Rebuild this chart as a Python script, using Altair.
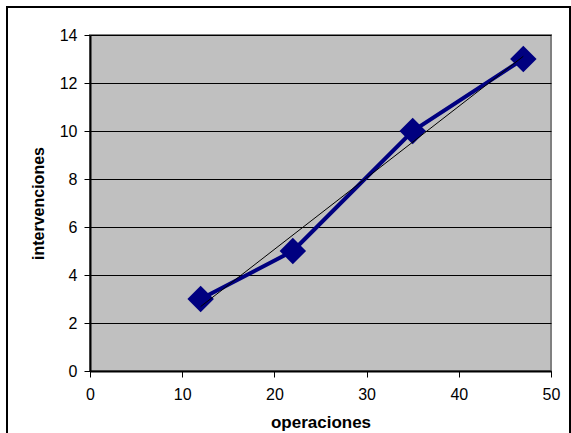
import altair as alt
import pandas as pd

operaciones = [12, 22, 35, 47]
intervenciones = [3, 5, 10, 13]

df = pd.DataFrame({"operaciones": operaciones, "intervenciones": intervenciones})

FONT = "Liberation Sans"

x_enc = alt.X("operaciones:Q",
              scale=alt.Scale(domain=[0, 50], nice=False, zero=False),
              axis=alt.Axis(values=[0, 10, 20, 30, 40, 50], title="operaciones",
                            grid=False, titleX=230.5, titleY=51, titleFontSize=17,
                            titleAlign="center", titleBaseline="middle",
                            labelFlush=False, labelPadding=9))
y_enc = alt.Y("intervenciones:Q",
              scale=alt.Scale(domain=[0, 14], nice=False, zero=False),
              axis=alt.Axis(values=[0, 2, 4, 6, 8, 10, 12, 14], title="intervenciones",
                            grid=True, titleX=-52, titleY=168,
                            titleAlign="center", titleBaseline="middle", titleAngle=-90,
                            labelFlush=False, labelPadding=7))

base = alt.Chart(df)

line = base.mark_line(color="#000080", strokeWidth=4).encode(x=x_enc, y=y_enc)
pts = base.mark_point(shape="diamond", filled=True, size=700, color="#000080", opacity=1).encode(x=x_enc, y=y_enc)
trend = base.transform_regression("operaciones", "intervenciones").mark_line(
    color="black", strokeWidth=1).encode(x="operaciones:Q", y="intervenciones:Q")

frame = alt.Chart(pd.DataFrame({"k": [0]})).mark_rect(
    fill=None, stroke="black", strokeWidth=2).encode(
    x=alt.value(-83), x2=alt.value(480), y=alt.value(-28), y2=alt.value(420))

chart = alt.layer(frame, line, pts, trend).properties(
    width=461, height=336,
    autosize=alt.AutoSizeParams(type="none"),
    padding={"left": 90, "top": 35, "right": 20, "bottom": 62},
    background="white",
).configure_view(
    fill="#C0C0C0", stroke="#808080", strokeWidth=2
).configure_axis(
    labelFont=FONT, labelFontSize=16, labelColor="black",
    titleFont=FONT, titleFontSize=16, titleFontWeight="bold", titleColor="black",
    domainColor="black", domainWidth=2, tickColor="black", tickSize=6, tickWidth=1,
    gridColor="black", gridWidth=1, gridOpacity=1, domainOpacity=1,
)

chart.save("out.html", embed_options={"renderer": "svg", "actions": False})
